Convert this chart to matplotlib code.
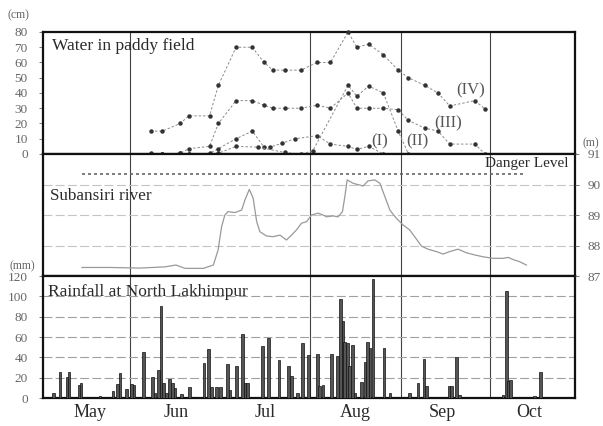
import matplotlib
matplotlib.use("Agg")
import matplotlib.pyplot as plt

plt.rcParams['font.family'] = ['Liberation Serif', 'DejaVu Serif']

# Days counted from 1 May (day 0)
month_names = ["May", "Jun", "Jul", "Aug", "Sep", "Oct"]
month_mid = [17.5, 46.8, 77, 107.5, 137, 166.5]
month_lines = [31, 92, 123, 153]

# Water depth in paddy fields (cm), four sites
days_iv = [38, 42, 48, 51, 58, 61, 67, 72.5, 76.5, 79.5, 83.5, 89, 94.5, 99, 105, 108,
           112, 117, 122, 125.5, 131, 135.5, 139.5, 148, 151.5]
water_iv = [15, 15, 20, 25, 25, 45, 70, 70, 60, 55, 55, 55, 60, 60, 80, 70,
            72, 65, 55, 50, 45, 40, 31.5, 35, 29.5]
days_iii = days_iv
water_iii = [0, 0, 0.5, 3.5, 5, 20, 35, 35, 32, 30, 30, 30, 32, 30, 40, 30,
             30, 30, 29, 22, 17, 15, 6.5, 6.5, 0]
days_ii = [38, 42, 48, 51, 58, 61, 67, 74.5, 83.5, 89, 93, 105, 108, 112, 117, 122, 125.5]
water_ii = [0, 0, 0, 0, 0, 0.5, 5, 4.5, 1, 0, 2, 45, 38, 44.5, 40, 15, 0]
days_i = [38, 42, 48, 51, 58, 61, 67, 72.5, 76.5, 78.5, 82.5, 87, 94.5, 99, 105, 108, 112, 117]
water_i = [0.5, 0, 0.5, 0, 0.5, 3.5, 10, 15, 4.5, 4.5, 7, 10, 12, 6.5, 5, 3, 5, 0]
site_labels = ["(I)", "(II)", "(III)", "(IV)"]
site_label_pos = [(115.8, 8.5), (128.5, 8), (139, 20), (146.5, 42)]

# Subansiri river stage (m)
river_days = [14.7, 24.2, 34.4, 42.9, 46.6, 49.7, 55.9, 59.3, 60.9, 62.1, 63.2, 64.3, 66.6,
              68.9, 70.0, 71.5, 72.8, 74.0, 75.1, 77.4, 79.6, 81.9, 84.1, 85.8, 87.5, 89.2,
              90.9, 92.6, 94.8, 96.5, 97.7, 99.9, 101.6, 103.1, 103.9, 104.7, 106.7, 109.0,
              110.1, 111.8, 114.1, 115.8, 117.5, 119.2, 121.4, 123.7, 125.9, 127.6, 129.9,
              132.1, 135.0, 137.2, 139.5, 142.3, 145.2, 148.0, 150.8, 154.2, 157.6, 159.3,
              161.0, 163.2, 165.5]
river_level = [87.28, 87.28, 87.26, 87.30, 87.36, 87.25, 87.25, 87.36, 87.85, 88.62, 89.00,
               89.11, 89.08, 89.16, 89.49, 89.84, 89.55, 88.78, 88.45, 88.31, 88.29, 88.34,
               88.18, 88.34, 88.51, 88.73, 88.78, 89.00, 89.06, 89.00, 88.94, 88.97, 88.94,
               89.11, 89.60, 90.15, 90.04, 89.98, 89.95, 90.12, 90.15, 90.04, 89.60, 89.16,
               88.89, 88.67, 88.51, 88.29, 87.98, 87.88, 87.80, 87.72, 87.80, 87.88, 87.76,
               87.69, 87.63, 87.58, 87.58, 87.61, 87.54, 87.47, 87.36]
danger_level = 90.35
danger_span = [14.7, 165.5]

# Daily rainfall at North Lakhimpur (mm)
rain_days = [5.0, 7.3, 9.6, 10.3, 13.8, 14.4, 20.8, 25.2, 26.7, 27.6, 29.9, 31.6, 32.4,
             35.5, 38.6, 39.5, 40.6, 41.5, 42.3, 43.5, 44.4, 45.5, 46.3, 48.5, 51.1, 54.5,
             56.1, 57.6, 58.7, 60.4, 61.8, 64.1, 64.9, 67.2, 69.1, 70.0, 70.8, 76.0, 77.9,
             81.6, 84.7, 85.8, 87.9, 89.6, 91.5, 94.6, 95.2, 96.5, 99.4, 101.4, 102.5,
             103.3, 103.9, 104.7, 105.4, 106.5, 107.3, 109.6, 110.7, 111.5, 112.4, 113.5,
             117.2, 119.2, 125.9, 128.7, 130.8, 131.6, 139.3, 140.1, 141.8, 142.9, 157.6,
             158.7, 159.3, 160.1, 168.3, 170.2]
rain_mm = [5, 26, 21, 26, 13, 14.5, 1.5, 7, 14, 25, 8.5, 14, 13,
           45.5, 21, 5, 27.5, 90.5, 14.5, 5, 18.7, 15, 10, 4, 11, 1,
           34.7, 48, 11, 11, 11, 33.5, 8, 31.5, 63, 15, 15, 51, 58.7,
           37.4, 31.5, 21.6, 5, 53.8, 42.4, 43, 11.4, 13, 43, 41.4, 97.8,
           75.6, 55.4, 53.8, 31, 52, 5, 15.6, 35.9, 55.4, 48.9, 116.7,
           49.6, 5, 5, 14.7, 38.4, 11.4, 11.4, 11.4, 40, 3, 3,
           105, 16.3, 17.9, 2, 26]

XLIM = (1.5, 182)
fig = plt.figure(figsize=(6.03, 4.26), dpi=100)
L, W, H = 0.0713, 0.8823, 0.2864
ax_w = fig.add_axes([L, 0.6385, W, H])
ax_r = fig.add_axes([L, 0.3521, W, H])
ax_p = fig.add_axes([L, 0.0657, W, H])

text_c = '#2a2a2a'
tick_c = '#666666'

for ax in (ax_w, ax_r, ax_p):
    ax.set_xlim(*XLIM)
    ax.set_xticks([])
    for s in ax.spines.values():
        s.set_linewidth(1.6)
        s.set_color('#111111')
    for d in month_lines:
        ax.axvline(d, color='#444444', lw=0.8, zorder=1)
    ax.tick_params(axis='y', colors=tick_c, labelsize=9.5, length=3, width=0.6, pad=8,
                   labelcolor=tick_c)

# --- paddy water panel
ax_w.set_ylim(0, 80)
ax_w.set_yticks(range(0, 81, 10))
for d, v in [(days_i, water_i), (days_ii, water_ii), (days_iii, water_iii), (days_iv, water_iv)]:
    ax_w.plot(d, v, color='#8a8a8a', lw=0.7, ls=(0, (2.5, 2)), marker='o', ms=2.2,
              mfc='#333333', mec='#333333', clip_on=False, zorder=3)
for lab, (x, y) in zip(site_labels, site_label_pos):
    ax_w.text(x, y, lab, fontsize=12, color='#555555', ha='center', va='center')
ax_w.text(0.017, 0.885, "Water in paddy field", transform=ax_w.transAxes, fontsize=12.5,
          color=text_c, va='center', ha='left')
fig.text(18 / 603, 1 - 15 / 426, "(cm)", fontsize=8.5, color=tick_c, ha='center', va='center')

# --- river stage panel
ax_r.set_ylim(87, 91)
ax_r.set_yticks([])
for g in (88, 89, 90):
    ax_r.axhline(g, color='#c4c4c4', lw=0.8, ls=(0, (8, 3)), zorder=1)
ax_r.plot(river_days, river_level, color='#999999', lw=0.9, zorder=3)
ax_r.plot(danger_span, [danger_level, danger_level], color='#666666', lw=1.2,
          ls=(0, (1.8, 1.8)), zorder=3)
ax_r.text(0.987, 0.926, "Danger Level", transform=ax_r.transAxes, fontsize=11,
          color=text_c, ha='right', va='center')
ax_r.text(0.013, 0.656, "Subansiri river", transform=ax_r.transAxes, fontsize=12.3,
          color=text_c, ha='left', va='center')
ax_r2 = ax_r.twinx()
ax_r2.set_ylim(87, 91)
ax_r2.set_yticks(range(87, 92))
ax_r2.tick_params(axis='y', colors=tick_c, labelsize=9.5, length=3, width=0.6, pad=6)
for s in ax_r2.spines.values():
    s.set_visible(False)
fig.text(591 / 603, 1 - 143 / 426, "(m)", fontsize=8.5, color=tick_c, ha='center', va='center')

# --- rainfall panel
ax_p.set_ylim(0, 120)
ax_p.set_yticks(range(0, 121, 20))
for g in range(20, 101, 20):
    ax_p.axhline(g, color='#a0a0a0', lw=0.8, ls=(0, (8, 3)), zorder=1)
ax_p.bar(rain_days, rain_mm, width=0.9, color='#555555', edgecolor='#111111',
         linewidth=0.5, zorder=3)
ax_p.text(0.009, 0.869, "Rainfall at North Lakhimpur", transform=ax_p.transAxes,
          fontsize=12.5, color=text_c, ha='left', va='center')
fig.text(22 / 603, 1 - 266 / 426, "(mm)", fontsize=8.5, color=tick_c, ha='center', va='center')
for name, m in zip(month_names, month_mid):
    ax_p.text(m, -6, name, fontsize=13, color=text_c, ha='center', va='top')

fig.savefig("out.png", dpi=100)
